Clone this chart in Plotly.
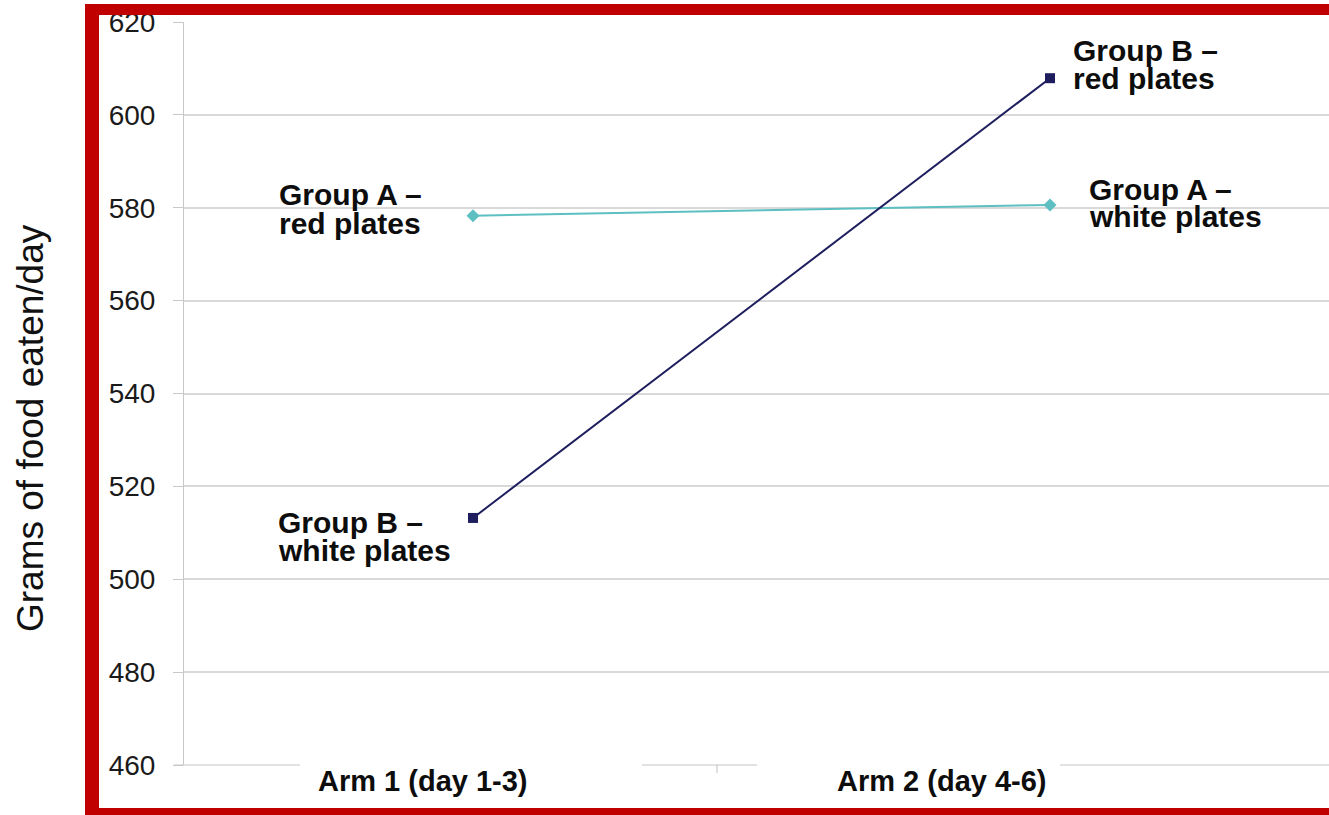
import plotly.graph_objects as go

# ---- data ----
arms = ["Arm 1 (day 1-3)", "Arm 2 (day 4-6)"]
group_a = [578.3, 580.6]   # Group A: red plates -> white plates
group_b = [513.2, 607.9]   # Group B: white plates -> red plates
y_ticks = [460, 480, 500, 520, 540, 560, 580, 600, 620]
label_a = [["Group A \u2013", "red plates"], ["Group A \u2013", "white plates"]]
label_b = [["Group B \u2013", "white plates"], ["Group B \u2013", "red plates"]]
y_title = "Grams of food eaten/day"

W, H = 1329, 815
ML, MT, MB = 184, 22, 50
PW, PH = W - ML, H - MT - MB

def px(xp):  # pixel -> paper x (decoration only)
    return (xp - ML) / PW

def py(yp):  # pixel -> paper y (decoration only)
    return (H - MB - yp) / PH

TEAL = "#5DBFC2"
NAVY = "#1E1E5E"
RED = "#C00000"
FONT = "Liberation Sans, Arial, sans-serif"

fig = go.Figure()
fig.add_trace(go.Scatter(x=[0, 1], y=group_a, mode="lines+markers",
                         line=dict(color=TEAL, width=2),
                         marker=dict(symbol="diamond", size=10, color=TEAL),
                         showlegend=False, hoverinfo="skip"))
fig.add_trace(go.Scatter(x=[0, 1], y=group_b, mode="lines+markers",
                         line=dict(color=NAVY, width=2),
                         marker=dict(symbol="square", size=10, color=NAVY),
                         showlegend=False, hoverinfo="skip"))

ann = []
lab_font = dict(family=FONT, size=30, color="#0d0d0d", weight="bold")
# (x index, y value, lines, xshift, yshifts)
specs = [
    (0, group_a[0], label_a[0], -196, [21, -8]),
    (1, group_a[1], label_a[1], 37, [15, -12]),
    (0, group_b[0], label_b[0], -197, [-5, -33]),
    (1, group_b[1], label_b[1], 21, [28, 0]),
]
for xi, yv, lines, xs, yss in specs:
    for line, ys in zip(lines, yss):
        ann.append(dict(x=xi, y=yv, xref="x", yref="y", text=line, showarrow=False,
                        xanchor="left", yanchor="middle", xshift=xs, yshift=ys,
                        font=lab_font))

# category labels
for xi, (name, xs) in enumerate(zip(arms, [-50, -108])):
    ann.append(dict(x=xi, y=0, xref="x", yref="paper", text=name, showarrow=False,
                    xanchor="center", yanchor="middle", xshift=xs, yshift=-16,
                    font=dict(family=FONT, size=29, color="#0d0d0d", weight="bold")))

# y-axis title
ann.append(dict(x=px(30), y=py(428), xref="paper", yref="paper", text=y_title,
                textangle=-90, showarrow=False, xanchor="center", yanchor="middle",
                font=dict(family=FONT, size=37, color="#111111")))

shapes = []
GRID = "#d9d9d9"
# baseline segments
for x0, x1 in [(174, 300), (642, 757), (1060, 1329)]:
    shapes.append(dict(type="line", xref="paper", yref="paper", x0=px(x0), x1=px(x1),
                       y0=0, y1=0, line=dict(color=GRID, width=1.5), layer="below"))
# gaps in baseline
for x0, x1 in [(300, 642), (757, 1060)]:
    shapes.append(dict(type="rect", xref="paper", yref="paper", x0=px(x0), x1=px(x1),
                       y0=py(762), y1=py(768), fillcolor="white", line=dict(width=0),
                       layer="above"))
# small tick
shapes.append(dict(type="line", xref="paper", yref="paper", x0=px(717), x1=px(717),
                   y0=0, y1=py(773), line=dict(color="#bfbfbf", width=1)))
# red frame
for x0, x1, y0, y1 in [(85, 99, 4, 815), (85, 1329, 4, 15), (85, 1329, 808, 815)]:
    shapes.append(dict(type="rect", xref="paper", yref="paper", x0=px(x0), x1=px(x1),
                       y0=py(y1), y1=py(y0), fillcolor=RED, line=dict(width=0),
                       layer="above"))

fig.update_layout(
    width=W, height=H,
    margin=dict(l=ML, r=0, t=MT, b=MB, pad=0),
    paper_bgcolor="white", plot_bgcolor="white",
    xaxis=dict(range=[-0.5009, 1.4835], showgrid=False, zeroline=False,
               showticklabels=False, showline=False, ticks=""),
    yaxis=dict(range=[460, 620], tickvals=y_ticks, showgrid=True, gridcolor=GRID,
               gridwidth=1.5, zeroline=False, showline=True, linecolor="#c8c8c8",
               linewidth=1, ticks="outside", ticklen=10, tickcolor="#c8c8c8",
               ticklabelstandoff=12,
               tickfont=dict(family=FONT, size=28, color="#1a1a1a")),
    annotations=ann, shapes=shapes,
)

fig.write_html("out.html", config={"displayModeBar": False},
               post_script="document.body.style.margin='0';"
                           "document.body.style.overflow='hidden';")
